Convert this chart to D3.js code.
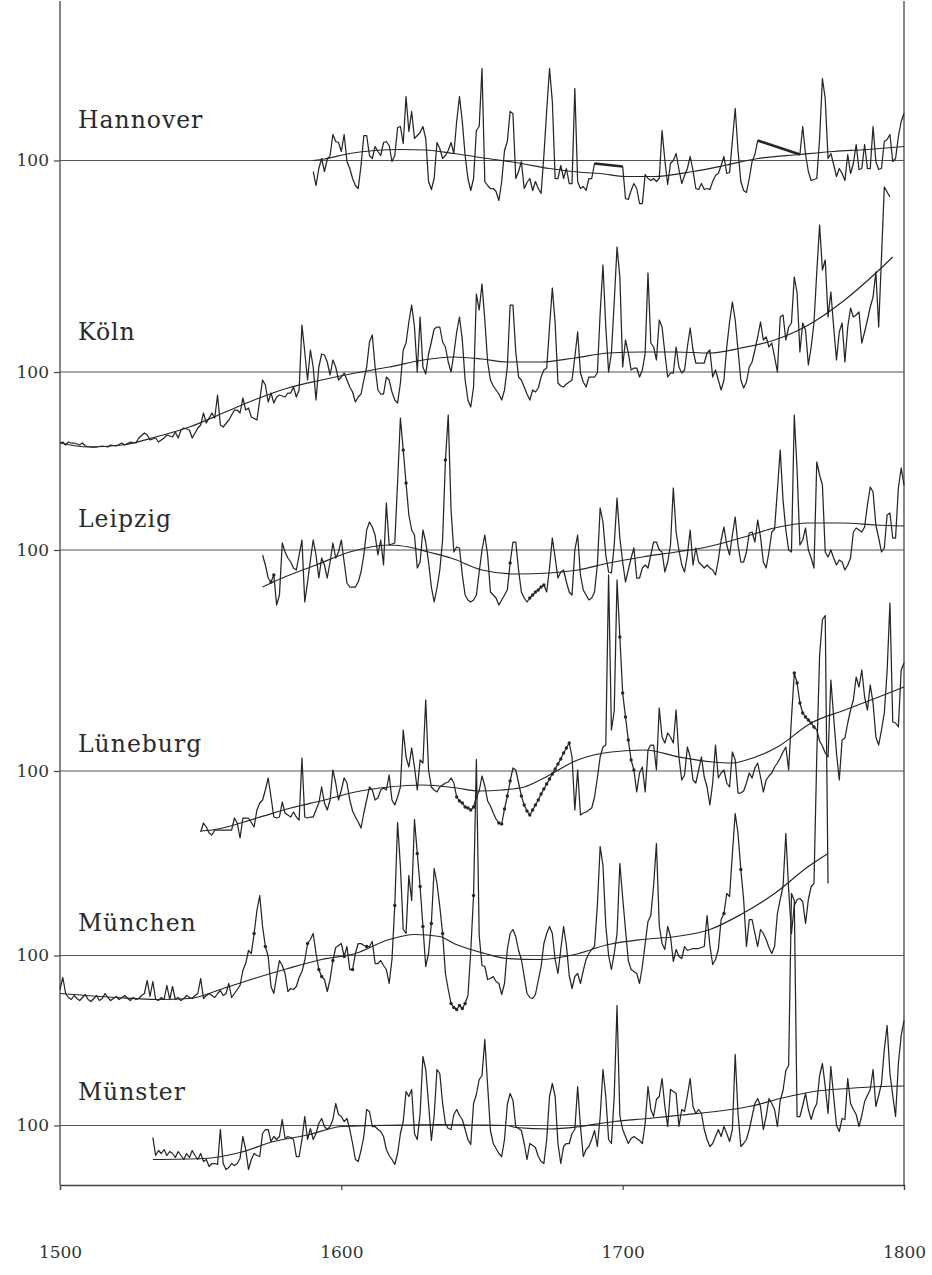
<!DOCTYPE html>
<html><head><meta charset="utf-8">
<script src="https://cdnjs.cloudflare.com/ajax/libs/d3/7.8.5/d3.min.js"></script>
<style>body{margin:0;background:#fff}</style></head>
<body><svg id="c" width="932" height="1275"></svg>
<script>
// ---------------- DATA ----------------
const cities = ["Hannover","Köln","Leipzig","Lüneburg","München","Münster"];
const yearTicks = [1500,1600,1700,1800];
const refValue = 100;

const hannover = [[1590,89],[1591,75],[1592,92],[1593,102],[1594,89],[1595,101],[1596,105],[1597,126],[1598,119],[1599,118],[1600,109],[1601,126],[1602,99],[1603,92],[1604,82],[1605,75],[1606,72],[1607,95],[1608,125],[1609,125],[1610,105],[1611,102],[1612,114],[1613,109],[1614,105],[1615,118],[1616,119],[1617,115],[1618,99],[1619,105],[1620,133],[1621,134],[1622,117],[1623,164],[1624,129],[1625,149],[1626,122],[1627,125],[1628,128],[1629,134],[1630,122],[1631,79],[1632,71],[1633,82],[1634,118],[1635,112],[1636,102],[1637,105],[1638,110],[1639,118],[1640,107],[1641,139],[1642,164],[1643,139],[1644,105],[1645,82],[1646,70],[1647,82],[1648,130],[1649,134],[1650,192],[1651,79],[1652,75],[1653,72],[1654,72],[1655,69],[1656,60],[1657,79],[1658,110],[1659,119],[1660,149],[1661,147],[1662,82],[1663,89],[1664,99],[1665,72],[1666,78],[1667,82],[1668,70],[1669,79],[1670,72],[1671,67],[1672,105],[1673,150],[1674,192],[1675,159],[1676,82],[1677,82],[1678,95],[1679,82],[1680,92],[1681,77],[1682,77],[1683,172],[1684,79],[1685,72],[1686,74],[1687,70],[1688,82],[1689,82],[1690,97],[1700,94],[1701,62],[1702,61],[1703,70],[1704,77],[1705,72],[1706,57],[1707,57],[1708,86],[1709,82],[1710,80],[1711,82],[1712,79],[1713,82],[1714,130],[1715,100],[1716,76],[1717,97],[1718,100],[1719,107],[1720,91],[1721,77],[1722,85],[1723,92],[1724,104],[1725,90],[1726,72],[1727,71],[1728,77],[1729,71],[1730,72],[1731,71],[1732,79],[1733,85],[1734,87],[1735,95],[1736,104],[1737,87],[1738,88],[1739,120],[1740,152],[1741,110],[1742,79],[1743,70],[1744,68],[1745,82],[1746,99],[1747,106],[1748,120],[1763,106],[1764,134],[1765,106],[1766,89],[1767,80],[1768,81],[1769,82],[1770,122],[1771,182],[1772,162],[1773,102],[1774,107],[1775,96],[1776,84],[1777,92],[1778,87],[1779,80],[1780,106],[1781,87],[1782,97],[1783,116],[1784,91],[1785,92],[1786,116],[1787,92],[1788,92],[1789,134],[1790,99],[1791,91],[1792,92],[1793,119],[1794,121],[1795,126],[1796,99],[1797,102],[1798,124],[1799,139],[1800,147]];
const hannoverTrend = [[1590,100],[1594,101.5],[1603,107],[1612,110],[1621,111],[1630,110.5],[1640,107],[1652,102],[1662,98],[1674,92],[1686,88],[1692,87],[1701,84],[1711,84],[1725,89],[1737,95.5],[1748,102],[1763,106],[1775,109],[1787,111],[1800,114]];
const hannoverFilled = [[1690,1700],[1748,1763]];

const koeln = [[1500,29],[1501,30],[1502,27],[1503,30],[1504,29],[1505,29],[1506,28],[1507,27],[1508,29],[1509,26],[1511,25],[1513,25],[1515,26],[1517,25],[1518,27],[1520,26],[1522,29],[1523,27],[1525,30],[1527,29],[1528,34],[1530,39],[1531,37],[1532,32],[1534,34],[1535,30],[1537,34],[1538,37],[1540,35],[1541,40],[1542,34],[1543,42],[1544,44],[1546,42],[1547,34],[1548,39],[1549,44],[1550,47],[1551,59],[1552,49],[1554,59],[1555,54],[1556,77],[1557,47],[1558,45],[1560,52],[1562,62],[1563,62],[1564,59],[1565,74],[1566,62],[1567,64],[1568,55],[1570,52],[1571,72],[1572,92],[1573,87],[1574,70],[1575,79],[1576,69],[1577,75],[1578,77],[1580,75],[1581,79],[1582,79],[1583,85],[1584,75],[1585,82],[1586,147],[1587,120],[1588,92],[1589,122],[1590,105],[1591,72],[1592,105],[1593,118],[1594,117],[1595,110],[1596,97],[1597,112],[1598,105],[1599,92],[1600,95],[1601,99],[1602,92],[1603,85],[1604,80],[1605,70],[1606,75],[1607,78],[1608,92],[1609,105],[1610,130],[1611,137],[1612,105],[1613,82],[1614,78],[1615,78],[1616,95],[1617,92],[1618,80],[1619,72],[1620,69],[1621,89],[1622,122],[1623,129],[1624,150],[1625,167],[1626,145],[1627,100],[1628,155],[1629,105],[1630,98],[1631,118],[1632,130],[1633,143],[1634,145],[1635,145],[1636,130],[1637,125],[1638,110],[1639,100],[1640,118],[1641,140],[1642,155],[1643,132],[1644,92],[1645,72],[1646,65],[1647,85],[1648,178],[1649,162],[1650,188],[1651,152],[1652,110],[1653,92],[1654,86],[1655,82],[1656,78],[1657,72],[1658,82],[1659,105],[1660,167],[1661,167],[1662,120],[1663,95],[1664,92],[1665,85],[1666,78],[1667,72],[1668,82],[1669,80],[1670,84],[1671,95],[1672,102],[1673,104],[1674,145],[1675,184],[1676,149],[1677,89],[1678,86],[1679,85],[1680,88],[1681,90],[1682,92],[1683,115],[1684,140],[1685,99],[1686,90],[1687,85],[1688,95],[1689,95],[1690,95],[1691,99],[1692,159],[1693,207],[1694,145],[1695,100],[1696,119],[1697,170],[1698,225],[1699,195],[1700,105],[1701,132],[1702,119],[1703,102],[1704,104],[1705,104],[1706,95],[1707,102],[1708,119],[1709,199],[1710,129],[1711,125],[1712,112],[1713,152],[1714,145],[1715,119],[1716,95],[1717,99],[1718,99],[1719,125],[1720,105],[1721,99],[1722,102],[1723,125],[1724,144],[1725,122],[1726,109],[1727,109],[1728,109],[1729,109],[1730,119],[1731,122],[1732,95],[1733,102],[1734,92],[1735,82],[1736,92],[1737,125],[1738,150],[1739,170],[1740,152],[1741,122],[1742,92],[1743,84],[1744,90],[1745,105],[1746,110],[1747,122],[1748,135],[1749,150],[1750,132],[1751,135],[1752,125],[1753,129],[1754,115],[1755,100],[1756,155],[1757,157],[1758,132],[1759,145],[1760,149],[1761,195],[1762,179],[1763,120],[1764,149],[1765,142],[1766,107],[1767,125],[1768,149],[1769,200],[1770,247],[1771,202],[1772,212],[1773,155],[1774,180],[1775,145],[1776,112],[1777,140],[1778,149],[1779,110],[1780,145],[1781,164],[1782,155],[1783,157],[1784,160],[1785,129],[1786,140],[1787,152],[1788,165],[1789,175],[1790,200],[1791,145],[1792,215],[1793,285],[1795,275]];
const koelnTrend = [[1500,29],[1510,25],[1522,27],[1534,35],[1546,45],[1558,59],[1569,72],[1581,84],[1593,92],[1605,99],[1617,105],[1629,112],[1640,115],[1650,113],[1659,110],[1671,110],[1683,114],[1695,119],[1707,120],[1719,120],[1731,119],[1742,124],[1754,132],[1766,147],[1778,170],[1790,199],[1796,215]];

const leipzig = [[1572,95],[1573,85],[1574,72],[1575,68],[1576,75],[1577,45],[1578,55],[1579,107],[1580,98],[1581,92],[1582,88],[1583,82],[1584,80],[1585,95],[1586,110],[1587,48],[1588,68],[1589,90],[1590,110],[1591,95],[1592,72],[1593,92],[1594,85],[1595,72],[1596,88],[1597,107],[1598,92],[1599,98],[1600,110],[1601,88],[1602,67],[1603,63],[1604,63],[1605,63],[1606,68],[1607,78],[1608,95],[1609,120],[1610,128],[1611,123],[1612,115],[1613,95],[1614,110],[1615,85],[1616,147],[1617,105],[1618,106],[1619,107],[1620,168],[1621,232],[1622,200],[1623,167],[1624,135],[1625,120],[1626,115],[1627,82],[1628,88],[1629,120],[1630,108],[1631,88],[1632,63],[1633,48],[1634,62],[1635,80],[1636,110],[1637,190],[1638,235],[1639,140],[1640,98],[1641,103],[1642,102],[1643,75],[1644,55],[1645,50],[1646,48],[1647,50],[1648,55],[1649,78],[1650,100],[1651,115],[1652,95],[1653,58],[1654,55],[1655,52],[1656,45],[1657,50],[1658,55],[1659,60],[1660,87],[1661,108],[1662,108],[1663,80],[1664,58],[1665,52],[1666,48],[1667,52],[1668,55],[1669,58],[1670,60],[1671,63],[1672,65],[1673,58],[1674,82],[1675,112],[1676,92],[1677,72],[1678,78],[1679,80],[1680,68],[1681,58],[1682,55],[1683,100],[1684,115],[1685,75],[1686,60],[1687,55],[1688,50],[1689,52],[1690,58],[1691,85],[1692,142],[1693,128],[1694,95],[1695,78],[1696,77],[1697,105],[1698,152],[1699,112],[1700,88],[1701,68],[1702,80],[1703,92],[1704,102],[1705,72],[1706,72],[1707,82],[1708,85],[1709,82],[1710,95],[1711,108],[1712,108],[1713,100],[1714,98],[1715,78],[1716,88],[1717,105],[1718,162],[1719,118],[1720,100],[1721,85],[1722,78],[1723,95],[1724,120],[1725,85],[1726,102],[1727,88],[1728,85],[1729,82],[1730,85],[1731,82],[1732,80],[1733,75],[1734,90],[1735,110],[1736,123],[1737,105],[1738,95],[1739,115],[1740,133],[1741,105],[1742,88],[1743,88],[1744,98],[1745,117],[1746,118],[1747,108],[1748,130],[1749,113],[1750,88],[1751,82],[1752,98],[1753,118],[1754,121],[1755,160],[1756,200],[1757,150],[1758,120],[1759,100],[1760,98],[1761,235],[1762,180],[1763,105],[1764,110],[1765,122],[1766,100],[1767,92],[1768,82],[1769,188],[1770,175],[1771,165],[1772,98],[1773,93],[1774,100],[1775,92],[1776,85],[1777,90],[1778,88],[1779,80],[1780,85],[1781,92],[1782,118],[1783,122],[1784,120],[1785,118],[1786,123],[1787,145],[1788,163],[1789,158],[1790,125],[1791,112],[1792,98],[1793,102],[1794,135],[1795,137],[1796,112],[1797,112],[1798,162],[1799,182],[1800,165]];
const leipzigTrend = [[1572,63],[1579,72],[1591,85],[1603,98],[1617,105],[1624,103],[1631,98],[1639,92],[1650,80],[1662,76],[1674,77],[1684,80],[1695,87],[1707,93],[1719,98],[1730,103],[1742,112],[1754,122],[1766,127],[1778,127],[1790,125],[1800,124]];
const leipzigDots = [1575,1576,1622,1623,1637,1660,1667,1668,1669,1670,1671,1672];

const lueneburg = [[1550,39],[1551,48],[1552,44],[1553,38],[1554,36],[1555,41],[1558,41],[1561,41],[1562,53],[1563,48],[1564,33],[1565,53],[1567,53],[1569,44],[1570,61],[1571,68],[1572,71],[1573,81],[1574,93],[1575,74],[1576,54],[1577,53],[1578,54],[1579,69],[1580,58],[1581,56],[1582,54],[1583,59],[1584,54],[1585,51],[1586,113],[1587,54],[1588,53],[1589,54],[1590,54],[1591,61],[1592,68],[1593,84],[1594,68],[1595,61],[1596,71],[1597,101],[1598,88],[1599,71],[1600,81],[1601,93],[1602,88],[1603,71],[1604,60],[1605,54],[1606,49],[1607,43],[1608,58],[1609,71],[1610,84],[1611,81],[1612,71],[1613,73],[1614,81],[1615,83],[1616,81],[1617,96],[1618,71],[1619,66],[1620,74],[1621,84],[1622,141],[1623,114],[1624,104],[1625,123],[1626,104],[1627,81],[1628,111],[1629,108],[1630,171],[1631,101],[1632,84],[1633,81],[1634,79],[1635,84],[1636,86],[1637,88],[1638,89],[1639,93],[1640,88],[1641,74],[1642,70],[1643,68],[1644,64],[1645,63],[1646,61],[1647,64],[1648,74],[1649,80],[1650,95],[1651,85],[1652,70],[1653,65],[1654,58],[1655,52],[1656,48],[1657,47],[1658,62],[1659,75],[1660,90],[1661,103],[1662,101],[1663,88],[1664,75],[1665,66],[1666,60],[1667,56],[1668,61],[1669,66],[1670,71],[1671,77],[1672,82],[1673,87],[1674,92],[1675,97],[1676,102],[1677,107],[1678,112],[1679,118],[1680,123],[1681,128],[1682,114],[1683,61],[1684,101],[1685,56],[1686,58],[1687,59],[1688,61],[1689,63],[1690,74],[1691,93],[1692,114],[1693,124],[1694,126],[1695,296],[1696,141],[1697,160],[1698,291],[1699,234],[1700,178],[1701,154],[1702,131],[1703,111],[1704,101],[1705,79],[1706,98],[1707,104],[1708,79],[1709,121],[1710,126],[1711,126],[1712,101],[1713,163],[1714,134],[1715,128],[1716,138],[1717,134],[1718,128],[1719,161],[1720,114],[1721,91],[1722,96],[1723,124],[1724,114],[1725,91],[1726,88],[1727,101],[1728,114],[1729,94],[1730,84],[1731,66],[1732,88],[1733,126],[1734,93],[1735,98],[1736,101],[1737,88],[1738,84],[1739,119],[1740,111],[1741,78],[1742,78],[1743,80],[1744,88],[1745,98],[1746,93],[1747,103],[1748,108],[1749,94],[1750,79],[1751,91],[1752,95],[1753,98],[1754,104],[1755,108],[1756,113],[1757,119],[1758,124],[1759,101],[1760,153],[1761,198],[1762,188],[1763,168],[1764,158],[1765,154],[1766,151],[1767,148],[1768,144],[1769,141],[1770,130],[1771,125],[1772,118],[1773,114],[1774,191],[1775,154],[1776,118],[1777,91],[1778,131],[1779,133],[1780,148],[1781,161],[1782,171],[1783,194],[1784,184],[1785,201],[1786,174],[1787,161],[1788,186],[1789,168],[1790,134],[1791,126],[1792,141],[1793,158],[1794,200],[1795,268],[1796,149],[1797,148],[1798,144],[1799,201],[1800,208]];
const lueneburgTrend = [[1550,40],[1554,41],[1570,53],[1582,63],[1594,71],[1605,79],[1617,84],[1629,86],[1641,83],[1649,80],[1657,81],[1665,84],[1672,93],[1684,111],[1696,119],[1708,121],[1720,114],[1732,109],[1739,108],[1744,111],[1755,124],[1767,148],[1779,161],[1791,174],[1800,184]];
const lueneburgDots = [1641,1642,1643,1644,1645,1646,1647,1648,1656,1657,1658,1659,1660,1664,1665,1666,1667,1668,1669,1670,1671,1672,1673,1674,1675,1676,1677,1678,1679,1680,1681,1699,1700,1701,1702,1703,1704,1761,1762,1763,1764,1765,1766,1767,1768];

const muenchen = [[1500,66],[1501,78],[1502,62],[1503,58],[1504,56],[1505,60],[1506,57],[1507,55],[1508,58],[1509,61],[1510,56],[1511,54],[1512,57],[1513,60],[1514,55],[1515,57],[1516,62],[1517,58],[1518,55],[1519,57],[1520,59],[1521,56],[1522,58],[1523,60],[1524,57],[1525,55],[1526,58],[1527,56],[1528,57],[1529,60],[1530,62],[1531,75],[1532,59],[1533,74],[1534,56],[1535,55],[1536,58],[1537,56],[1538,70],[1539,56],[1540,69],[1541,56],[1542,58],[1543,55],[1544,57],[1545,60],[1546,58],[1547,57],[1548,60],[1549,62],[1550,77],[1551,57],[1552,60],[1553,62],[1554,60],[1555,58],[1556,62],[1557,65],[1558,60],[1559,62],[1560,72],[1561,58],[1562,62],[1563,66],[1564,70],[1565,85],[1566,92],[1567,105],[1568,102],[1569,122],[1570,145],[1571,160],[1572,129],[1573,109],[1574,99],[1575,69],[1576,62],[1577,79],[1578,95],[1579,90],[1580,82],[1581,64],[1582,67],[1583,66],[1584,69],[1585,78],[1586,84],[1587,95],[1588,112],[1589,116],[1590,122],[1591,102],[1592,86],[1593,79],[1594,76],[1595,64],[1596,76],[1597,95],[1598,108],[1599,110],[1600,112],[1601,99],[1602,109],[1603,86],[1604,86],[1605,102],[1606,112],[1607,112],[1608,110],[1609,109],[1610,109],[1611,114],[1612,92],[1613,92],[1614,95],[1615,90],[1616,86],[1617,72],[1618,96],[1619,150],[1620,233],[1621,189],[1622,126],[1623,122],[1624,180],[1625,155],[1626,236],[1627,202],[1628,169],[1629,129],[1630,89],[1631,102],[1632,132],[1633,187],[1634,172],[1635,149],[1636,122],[1637,82],[1638,66],[1639,52],[1640,48],[1641,46],[1642,50],[1643,47],[1644,52],[1645,60],[1646,104],[1647,160],[1648,296],[1649,120],[1650,90],[1651,89],[1652,76],[1653,77],[1654,79],[1655,74],[1656,72],[1657,61],[1658,72],[1659,106],[1660,122],[1661,126],[1662,119],[1663,105],[1664,96],[1665,79],[1666,62],[1667,58],[1668,57],[1669,61],[1670,75],[1671,89],[1672,112],[1673,122],[1674,129],[1675,122],[1676,96],[1677,82],[1678,106],[1679,129],[1680,110],[1681,80],[1682,67],[1683,79],[1684,82],[1685,72],[1686,85],[1687,96],[1688,102],[1689,106],[1690,109],[1691,150],[1692,209],[1693,190],[1694,130],[1695,100],[1696,86],[1697,102],[1698,122],[1699,192],[1700,158],[1701,126],[1702,95],[1703,86],[1704,84],[1705,82],[1706,72],[1707,89],[1708,112],[1709,134],[1710,140],[1711,170],[1712,212],[1713,130],[1714,112],[1715,106],[1716,129],[1717,119],[1718,94],[1719,106],[1720,99],[1721,97],[1722,109],[1723,105],[1724,106],[1725,107],[1726,107],[1727,107],[1728,108],[1729,109],[1730,140],[1731,110],[1732,91],[1733,96],[1734,106],[1735,136],[1736,142],[1737,162],[1738,159],[1739,202],[1740,242],[1741,222],[1742,186],[1743,156],[1744,109],[1745,136],[1746,136],[1747,122],[1748,109],[1749,126],[1750,122],[1751,116],[1752,108],[1753,102],[1754,109],[1755,142],[1756,156],[1757,169],[1758,222],[1759,166],[1760,122],[1761,150],[1762,156],[1763,157],[1764,154],[1765,132],[1766,156],[1767,169],[1768,172],[1769,300],[1770,400],[1771,436],[1772,440],[1773,172]];
const muenchenTrend = [[1500,62],[1520,58],[1535,56],[1546,57],[1558,67],[1569,77],[1581,87],[1593,96],[1605,102],[1617,116],[1626,121],[1635,119],[1640,112],[1651,102],[1659,97],[1671,96],[1683,101],[1695,111],[1707,116],[1719,119],[1731,126],[1742,141],[1754,162],[1766,189],[1773,202]];
const muenchenDots = [1569,1573,1588,1592,1593,1597,1601,1604,1609,1619,1627,1628,1629,1632,1636,1639,1640,1641,1642,1643,1644,1647,1736,1742];

const muenster = [[1533,88],[1534,70],[1535,75],[1536,72],[1537,76],[1538,70],[1539,74],[1540,72],[1541,68],[1542,74],[1543,70],[1544,66],[1545,72],[1546,68],[1547,75],[1548,70],[1549,66],[1550,72],[1551,64],[1552,66],[1553,59],[1554,62],[1555,62],[1556,61],[1557,96],[1558,62],[1559,56],[1560,58],[1561,62],[1562,60],[1563,62],[1564,67],[1565,89],[1566,76],[1567,56],[1568,66],[1569,72],[1570,70],[1571,69],[1572,92],[1573,96],[1574,96],[1575,84],[1576,89],[1577,86],[1578,89],[1579,106],[1580,87],[1581,89],[1582,88],[1583,86],[1584,69],[1585,69],[1586,86],[1587,109],[1588,86],[1589,97],[1590,86],[1591,92],[1592,102],[1593,107],[1594,99],[1595,96],[1596,99],[1597,106],[1598,122],[1599,111],[1600,109],[1601,104],[1602,107],[1603,96],[1604,82],[1605,66],[1606,64],[1607,75],[1608,89],[1609,116],[1610,114],[1611,99],[1612,99],[1613,96],[1614,94],[1615,89],[1616,76],[1617,70],[1618,66],[1619,61],[1620,72],[1621,92],[1622,104],[1623,134],[1624,129],[1625,136],[1626,92],[1627,86],[1628,112],[1629,169],[1630,156],[1631,122],[1632,85],[1633,110],[1634,156],[1635,152],[1636,122],[1637,102],[1638,97],[1639,96],[1640,111],[1641,116],[1642,110],[1643,106],[1644,96],[1645,86],[1646,81],[1647,122],[1648,131],[1649,146],[1650,150],[1651,186],[1652,140],[1653,95],[1654,82],[1655,77],[1656,72],[1657,69],[1658,86],[1659,121],[1660,132],[1661,125],[1662,99],[1663,97],[1664,95],[1665,82],[1666,66],[1667,82],[1668,80],[1669,78],[1670,69],[1671,64],[1672,62],[1673,86],[1674,129],[1675,142],[1676,129],[1677,82],[1678,62],[1679,79],[1680,82],[1681,82],[1682,92],[1683,96],[1684,139],[1685,99],[1686,69],[1687,76],[1688,79],[1689,86],[1690,95],[1691,79],[1692,109],[1693,156],[1694,129],[1695,86],[1696,82],[1697,129],[1698,220],[1699,110],[1700,96],[1701,89],[1702,82],[1703,87],[1704,89],[1705,87],[1706,85],[1707,82],[1708,102],[1709,139],[1710,116],[1711,109],[1712,126],[1713,129],[1714,147],[1715,119],[1716,99],[1717,136],[1718,134],[1719,132],[1720,99],[1721,116],[1722,114],[1723,130],[1724,147],[1725,119],[1726,112],[1727,116],[1728,112],[1729,96],[1730,86],[1731,79],[1732,82],[1733,89],[1734,96],[1735,89],[1736,99],[1737,92],[1738,84],[1739,96],[1740,171],[1741,112],[1742,79],[1743,82],[1744,86],[1745,96],[1746,109],[1747,122],[1748,127],[1749,119],[1750,96],[1751,109],[1752,127],[1753,122],[1754,116],[1755,99],[1756,125],[1757,135],[1758,155],[1759,160],[1760,332],[1761,325],[1762,109],[1763,109],[1764,120],[1765,132],[1766,116],[1767,106],[1768,116],[1769,122],[1770,150],[1771,162],[1772,139],[1773,112],[1774,159],[1775,129],[1776,100],[1777,94],[1778,107],[1779,106],[1780,147],[1781,122],[1782,116],[1783,111],[1784,99],[1785,110],[1786,124],[1787,130],[1788,136],[1789,156],[1790,119],[1791,130],[1792,142],[1793,176],[1794,200],[1795,152],[1796,130],[1797,109],[1798,162],[1799,190],[1800,205]];
const muensterTrend = [[1533,66],[1551,67],[1564,73],[1576,84],[1588,90.5],[1600,99],[1611,100],[1623,100.5],[1635,101],[1647,100.5],[1659,100],[1662,98],[1674,96.5],[1685,99],[1697,104],[1709,107],[1721,110.5],[1733,114],[1745,119],[1756,127],[1768,134],[1780,137],[1792,139],[1800,139.5]];

// ---------------- LAYOUT ----------------
const series = [
  {name: cities[0], data: hannover, trend: hannoverTrend, filled: hannoverFilled, dots: []},
  {name: cities[1], data: koeln, trend: koelnTrend, dots: []},
  {name: cities[2], data: leipzig, trend: leipzigTrend, dots: leipzigDots},
  {name: cities[3], data: lueneburg, trend: lueneburgTrend, dots: lueneburgDots},
  {name: cities[4], data: muenchen, trend: muenchenTrend, dots: muenchenDots},
  {name: cities[5], data: muenster, trend: muensterTrend, dots: []}
];
const baseY = [160.5, 372, 550, 771, 955.5, 1125.5];
const labelY = [128, 340, 527, 752, 931, 1100];
const plotL = 60, plotR = 904, plotT = 1, plotB = 1185;
const ink = "#262626";

const svg = d3.select("#c");
const x = d3.scaleLinear().domain([1500, 1800]).range([plotL, plotR]);

svg.append("line").attr("x1", plotL).attr("x2", plotL).attr("y1", plotT).attr("y2", plotB).attr("stroke", "#444").attr("stroke-width", 1.3);
svg.append("line").attr("x1", plotR).attr("x2", plotR).attr("y1", plotT).attr("y2", plotB).attr("stroke", "#444").attr("stroke-width", 1.3);

const xAxis = d3.axisBottom(x).tickValues(yearTicks).tickFormat(d3.format("d")).tickSize(5).tickPadding(56);
const gx = svg.append("g").attr("transform", `translate(0,${plotB})`).call(xAxis);
gx.select(".domain").attr("stroke", "#444").attr("stroke-width", 1.3);
gx.selectAll(".tick line").attr("stroke", "#444").attr("stroke-width", 1.2);
gx.selectAll("text").attr("font-family", "DejaVu Serif, serif").attr("font-size", 17).attr("fill", "#333");

series.forEach((s, i) => {
  const y = d3.scaleLinear().domain([refValue, refValue + 100]).range([baseY[i], baseY[i] - 100]);
  const g = svg.append("g");
  g.append("line").attr("x1", plotL).attr("x2", plotR).attr("y1", y(refValue)).attr("y2", y(refValue))
    .attr("stroke", "#555").attr("stroke-width", 1.1);
  const yAxis = d3.axisLeft(y).tickValues([refValue]).tickSize(6).tickPadding(5);
  const gy = g.append("g").attr("transform", `translate(${plotL},0)`).call(yAxis);
  gy.select(".domain").remove();
  gy.selectAll(".tick line").attr("stroke", "#444").attr("stroke-width", 1.2);
  gy.selectAll("text").attr("font-family", "DejaVu Serif, serif").attr("font-size", 17).attr("fill", "#333");

  const line = d3.line().x(d => x(d[0])).y(d => y(d[1]));
  const trendLine = d3.line().curve(d3.curveMonotoneX).x(d => x(d[0])).y(d => y(d[1]));
  g.append("path").attr("d", trendLine(s.trend)).attr("fill", "none").attr("stroke", ink).attr("stroke-width", 1.2);
  g.append("path").attr("d", line(s.data)).attr("fill", "none").attr("stroke", ink).attr("stroke-width", 1.25).attr("stroke-linejoin", "round");
  if (s.filled) {
    s.filled.forEach(([a, b]) => {
      const seg = s.data.filter(d => d[0] >= a && d[0] <= b);
      g.append("path").attr("d", line(seg)).attr("fill", "none").attr("stroke", ink).attr("stroke-width", 2.6);
    });
  }
  const dotPts = s.data.filter(d => s.dots.includes(d[0]));
  g.selectAll("circle").data(dotPts).join("circle")
    .attr("cx", d => x(d[0])).attr("cy", d => y(d[1])).attr("r", 1.7).attr("fill", ink);
  g.append("text").attr("x", 78).attr("y", labelY[i]).text(s.name)
    .attr("font-family", "DejaVu Serif, serif").attr("font-size", 23.5).attr("letter-spacing", 1).attr("fill", "#2a2a2a");
});
</script></body></html>
